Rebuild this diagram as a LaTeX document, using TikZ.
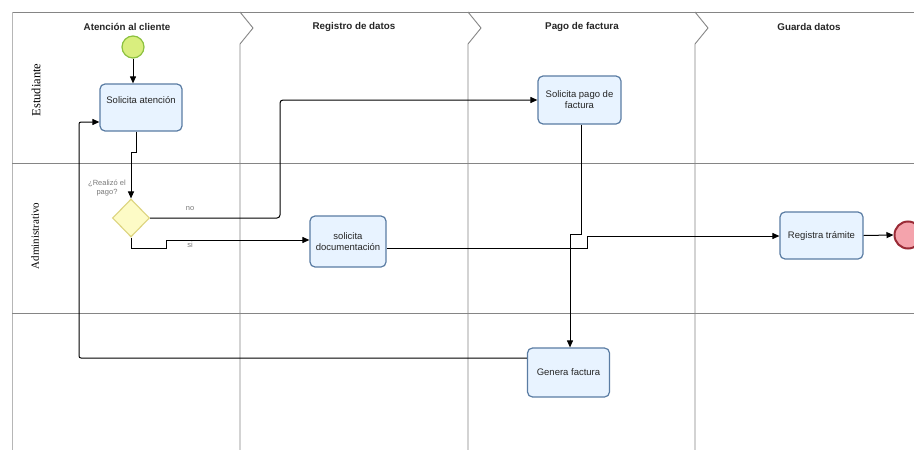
\documentclass[tikz,border=0pt]{standalone}
\usepackage{fontspec}
\setmainfont{Liberation Sans}
\newfontfamily\lanefont{Liberation Serif}
\usetikzlibrary{arrows.meta,shapes.geometric}
\definecolor{gridc}{HTML}{858585}
\definecolor{taskfill}{HTML}{E8F3FF}
\definecolor{taskdraw}{HTML}{5A7CA3}
\definecolor{startfill}{HTML}{D9EE7E}
\definecolor{startdraw}{HTML}{8CC13F}
\definecolor{gwfill}{HTML}{FDFBC6}
\definecolor{gwdraw}{HTML}{DCD47E}
\definecolor{endfill}{HTML}{F4A3AC}
\definecolor{enddraw}{HTML}{9A2B36}
\definecolor{labc}{HTML}{7A7A7A}
\tikzset{
  gridline/.style={draw=gridc, line width=0.9pt},
  task/.style={draw=taskdraw, fill=taskfill, line width=1.2pt, rounded corners=5pt,
    inner sep=1pt, align=center, font=\fontsize{9.5}{11}\selectfont, text=black!85},
  startev/.style={circle, draw=startdraw, fill=startfill, line width=1.2pt, minimum size=22pt, inner sep=0pt},
  endev/.style={circle, draw=enddraw, fill=endfill, line width=2pt, minimum size=27pt, inner sep=0pt},
  gateway/.style={diamond, draw=gwdraw, fill=gwfill, line width=1.1pt, minimum width=37pt, minimum height=38pt, inner sep=0pt},
  flow/.style={draw=black, line width=1pt, -{Triangle[length=7pt,width=6pt]}},
  header/.style={font=\fontsize{9.8}{11}\selectfont\bfseries, text=black!85},
  lanelabel/.style={rotate=90, text=black},
  flowlab/.style={font=\fontsize{7.5}{9}\selectfont, text=labc, align=center},
}
\begin{document}
\begin{tikzpicture}[x=1pt,y=-1pt]
\useasboundingbox (0,0) rectangle (914,450);
\fill[white] (0,0) rectangle (914,450);
% frame
\draw[gridline] (12,12) -- (914,12);
\draw[gridline, draw=gridc!60] (12,12) -- (12,450);
\draw[gridline] (12,163.5) -- (914,163.5);
\draw[gridline] (12,313) -- (914,313);
% column separators with chevrons
\foreach \cx in {240,468,695}{
  \draw[gridline] (\cx,12) -- (\cx+13,28) -- (\cx,44) -- (\cx,450);
}
% headers
\node[header] (h1) at (127,27) {Atención al cliente};
\node[header] (h2) at (354,27) {Registro de datos};
\node[header] (h3) at (582,27) {Pago de factura};
\node[header] (h4) at (809,27) {Guarda datos};
% lane labels
\node[lanelabel, font=\lanefont\fontsize{12.5}{14}\selectfont] (l1) at (36,90) {Estudiante};
\node[lanelabel, font=\lanefont\fontsize{11}{13}\selectfont] (l2) at (35,236) {Administrativo};
% nodes
\node[startev] (start) at (133,47) {};
\node[task, minimum width=82pt, minimum height=47pt] (sa) at (141,107.5) {Solicita atención\\[4pt]};
\node[gateway] (gw) at (131,218) {};
\node[flowlab] (gwl) at (107,188) {¿Realizó el\\pago?};
\node[task, minimum width=76pt, minimum height=51pt] (sd) at (348,241.5) {solicita\\documentación};
\node[task, minimum width=83pt, minimum height=48pt] (sp) at (579.5,100) {Solicita pago de\\factura};
\node[task, minimum width=82pt, minimum height=49pt] (gf) at (568.5,372.5) {Genera factura};
\node[task, minimum width=83pt, minimum height=47pt] (rt) at (821.5,235.5) {Registra trámite};
\node[endev] (end) at (908,235) {};
% flows
\draw[flow] (start) -- (start.south |- sa.north);
\draw[flow] (sa.south -| 136,0) -- (136,152) -- (131,152) -- (gw.north);
\draw[flow, rounded corners=3pt] (gw.east) -- (280,218) -- (280,100) -- (sp.west |- 0,100);
\node[flowlab] (lno) at (190,209) {no};
\draw[flow] (gw.south) -- (131,248) -- (166,248) -- (166,240) -- (sd.west |- 0,240);
\node[flowlab] (lsi) at (190,245) {si};
\draw[flow] (sd.east |- 0,248) -- (587,248) -- (587,236) -- (rt.west |- 0,236);
\draw[flow] (sp.south -| 581,0) -- (581,234) -- (570,234) -- (gf.north -| 570,0);
\draw[flow, rounded corners=2pt] (gf.west |- 0,358) -- (79,358) -- (79,122) -- (sa.west |- 0,122);
\draw[flow] (rt.east) -- (end.west);
\end{tikzpicture}
\end{document}
